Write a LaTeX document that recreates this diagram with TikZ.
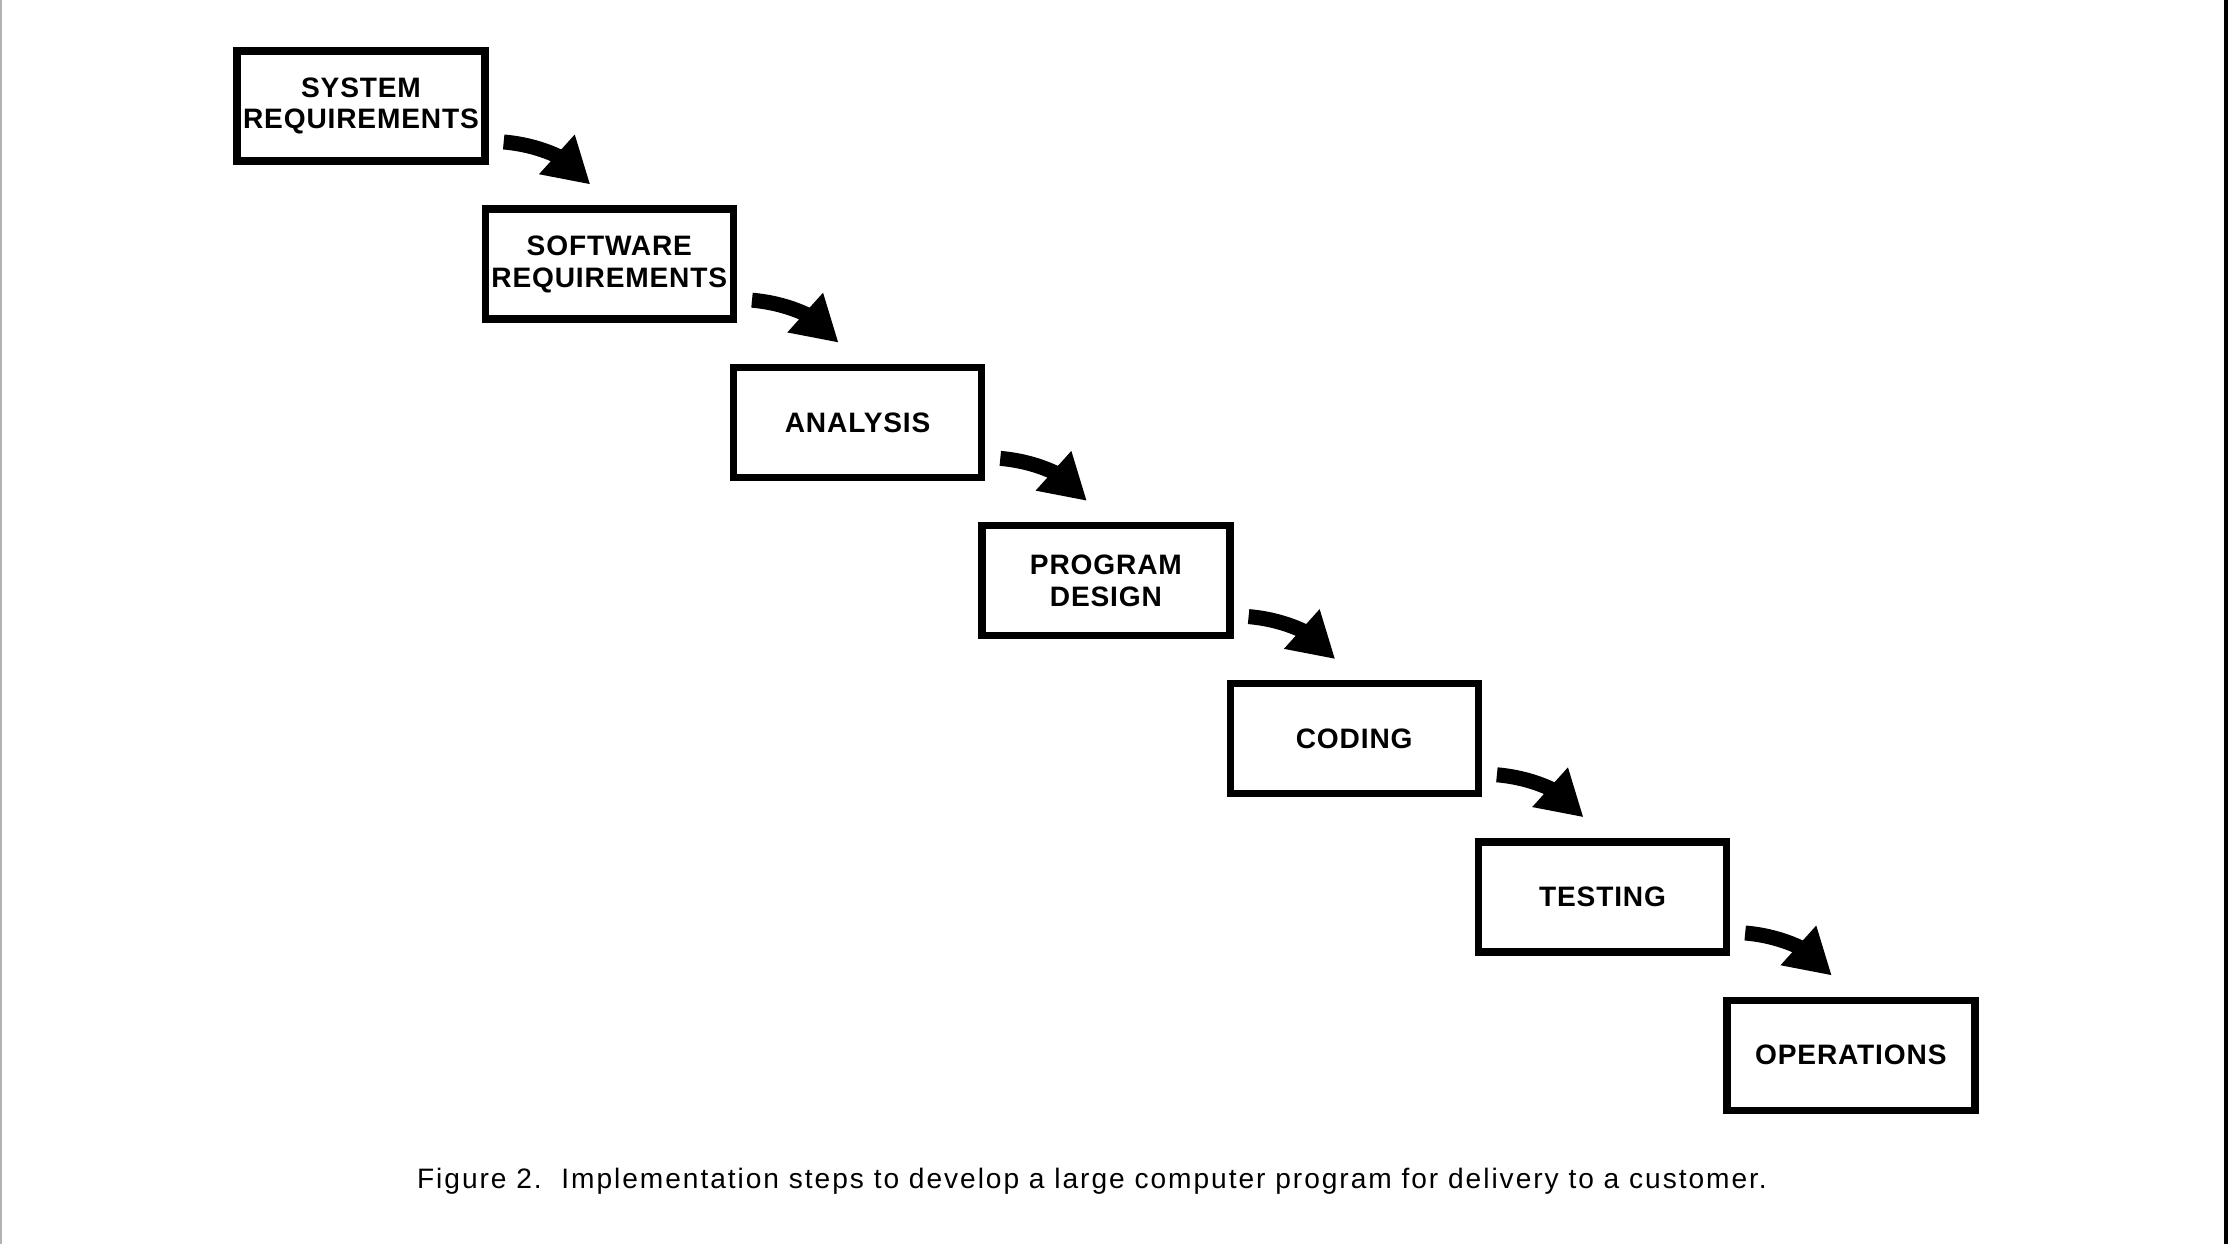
\documentclass[tikz,border=0pt]{standalone}
\usepackage{fontspec}
\setmainfont{Liberation Sans}
\newfontfamily\boxfont{Liberation Sans}[LetterSpace=3]
\newfontfamily\capfont{Liberation Sans}[LetterSpace=7]
\usepackage{tikz}
\usetikzlibrary{arrows.meta}

\begin{document}
\begin{tikzpicture}[
    stage/.style={draw=black, line width=2.1pt, minimum width=2.48cm, minimum height=1.1cm,
        inner sep=0pt, align=center, font=\boxfont\bfseries\fontsize{8}{9}\selectfont},
    flow/.style={black, line width=0.15cm, -{Triangle[length=0.45cm, width=0.5cm, sharp]}}
    ]
    % Page
    \useasboundingbox (0, 0) rectangle (22.28, 12.44);
    \fill[white] (0, 0) rectangle (22.28, 12.44);
    \fill[black] (22.24, 0) rectangle (22.28, 12.44);
    \draw[gray!60, line width=0.5pt] (0.01, 0) -- (0.01, 12.44);

    % Boxes
    \node[stage] (sysreq) at (3.61, 11.38) {SYSTEM\\REQUIREMENTS};
    \node[stage] (swreq) at (6.093, 9.798) {SOFTWARE\\REQUIREMENTS};
    \node[stage] (analysis) at (8.576, 8.216) {ANALYSIS};
    \node[stage] (progdesign) at (11.059, 6.634) {PROGRAM\\DESIGN};
    \node[stage] (coding) at (13.542, 5.052) {CODING};
    \node[stage] (testing) at (16.025, 3.47) {TESTING};
    \node[stage] (operations) at (18.508, 1.888) {OPERATIONS};

    % Arrows
    \draw[flow] ([shift={(0.15,-0.36)}]sysreq.east) to[out=-5, in=138] ([shift={(-0.19,0.21)}]swreq.north);
    \draw[flow] ([shift={(0.15,-0.36)}]swreq.east) to[out=-5, in=138] ([shift={(-0.19,0.21)}]analysis.north);
    \draw[flow] ([shift={(0.15,-0.36)}]analysis.east) to[out=-5, in=138] ([shift={(-0.19,0.21)}]progdesign.north);
    \draw[flow] ([shift={(0.15,-0.36)}]progdesign.east) to[out=-5, in=138] ([shift={(-0.19,0.21)}]coding.north);
    \draw[flow] ([shift={(0.15,-0.36)}]coding.east) to[out=-5, in=138] ([shift={(-0.19,0.21)}]testing.north);
    \draw[flow] ([shift={(0.15,-0.36)}]testing.east) to[out=-5, in=138] ([shift={(-0.19,0.21)}]operations.north);

    % Caption
    \node[font=\capfont\fontsize{8}{9}\selectfont] (caption) at (10.92, 0.63)
        {Figure 2.\ \ Implementation steps to develop a large computer program for delivery to a customer.};
\end{tikzpicture}
\end{document}
